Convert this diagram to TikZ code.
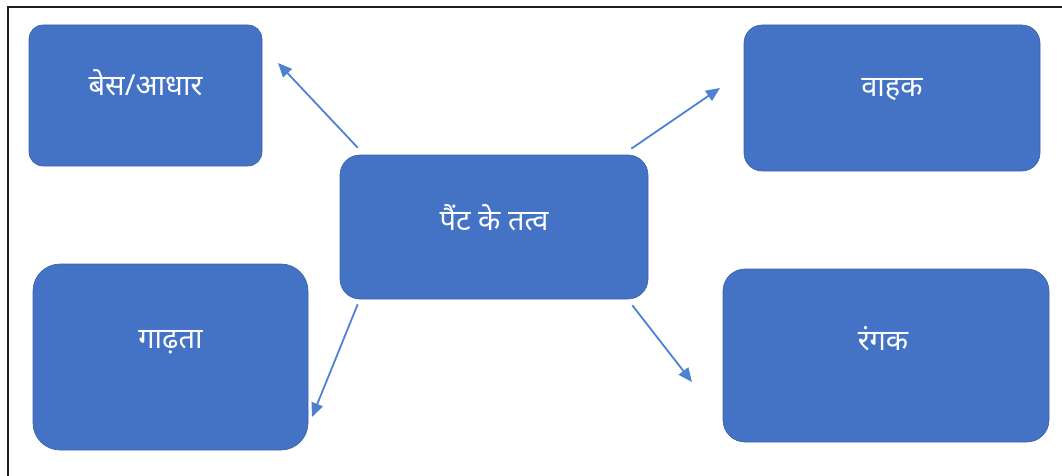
\documentclass[tikz,border=0pt]{standalone}
\usepackage{fontspec}
\usepackage{tikz}
\usetikzlibrary{arrows.meta}
\newfontfamily\hindi[Script=Devanagari]{Noto Sans}
\definecolor{boxblue}{RGB}{68,114,196}
\definecolor{arrowblue}{RGB}{79,129,210}
\definecolor{framegray}{RGB}{30,30,30}

\begin{document}
\begin{tikzpicture}[x=1pt, y=-1pt,
    tile/.style={draw=boxblue!85!black, line width=0.6pt, fill=boxblue, inner sep=0pt},
    tilelabel/.style={text=white, font=\hindi\fontsize{29}{34}\selectfont, inner sep=0pt},
    link/.style={-{Triangle[length=14pt, width=12pt]}, line width=1.8pt, color=arrowblue}]
    \useasboundingbox (0,0) rectangle (1062,476);

    % Cadre
    \draw[line width=1.6pt, color=framegray] (8,476) -- (8,7) -- (1062,7);

    % Boîte centrale
    \node[tile, rounded corners=20pt, minimum width=308pt, minimum height=144pt] (centre) at (494,227) {};
    \node[tilelabel] (centrelbl) at ([yshift=9pt]centre.center) {पैंट के तत्व};

    % Boîtes autour
    \node[tile, rounded corners=14pt, minimum width=233pt, minimum height=141pt] (base) at (145.5,95.5) {};
    \node[tilelabel] (baselbl) at ([yshift=12.5pt]base.center) {बेस/आधार};

    \node[tile, rounded corners=18pt, minimum width=296pt, minimum height=146pt] (vahak) at (892,98) {};
    \node[tilelabel] (vahaklbl) at ([yshift=8pt]vahak.center) {वाहक};

    \node[tile, rounded corners=27pt, minimum width=275pt, minimum height=186pt] (gadhta) at (170.5,357) {};
    \node[tilelabel] (gadhtalbl) at ([yshift=15pt]gadhta.center) {गाढ़ता};

    \node[tile, rounded corners=22pt, minimum width=326pt, minimum height=173pt] (rangak) at (886,355.5) {};
    \node[tilelabel] (rangaklbl) at ([xshift=-3pt, yshift=17pt]rangak.center) {रंगक};

    % Extrémités des flèches
    \coordinate (outnw) at ([shift={(18,-7)}]centre.north west);
    \coordinate (outne) at ([shift={(-17,-6)}]centre.north east);
    \coordinate (outsw) at ([shift={(18,5)}]centre.south west);
    \coordinate (outse) at ([shift={(-16,6)}]centre.south east);
    \coordinate (tobase) at (278,63);
    \coordinate (tovahak) at (720,88);
    \coordinate (togadhta) at (312,417);
    \coordinate (torangak) at (692,382);

    % Flèches
    \draw[link] (outnw) -- (tobase);
    \draw[link] (outne) -- (tovahak);
    \draw[link] (outsw) -- (togadhta);
    \draw[link] (outse) -- (torangak);
\end{tikzpicture}
\end{document}
